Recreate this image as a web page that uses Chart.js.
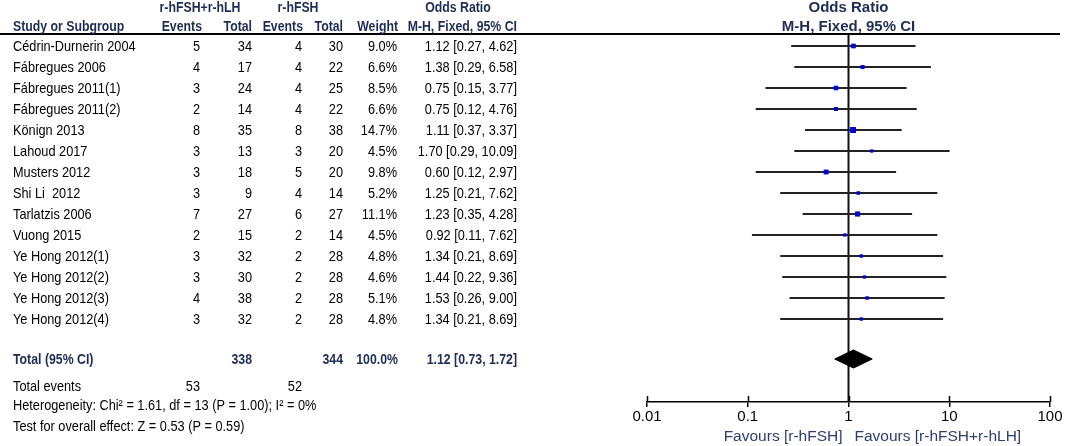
<!DOCTYPE html>
<html>
<head>
<meta charset="utf-8">
<script src="https://cdn.jsdelivr.net/npm/chart.js@4.4.1/dist/chart.umd.min.js"></script>
<style>
html,body{margin:0;padding:0;background:#fff;}
#wrap{position:relative;width:1065px;height:446px;}
</style>
</head>
<body>
<div id="wrap"><canvas id="c"></canvas></div>
<script>
// ---- data ----
const studies = ["Cédrin-Durnerin 2004","Fábregues 2006","Fábregues 2011(1)","Fábregues 2011(2)","Könign 2013","Lahoud 2017","Musters 2012","Shi Li  2012","Tarlatzis 2006","Vuong 2015","Ye Hong 2012(1)","Ye Hong 2012(2)","Ye Hong 2012(3)","Ye Hong 2012(4)"];
const expEvents = [5,4,3,2,8,3,3,3,7,2,3,3,4,3];
const expTotal  = [34,17,24,14,35,13,18,9,27,15,32,30,38,32];
const ctlEvents = [4,4,4,4,8,3,5,4,6,2,2,2,2,2];
const ctlTotal  = [30,22,25,22,38,20,20,14,27,14,28,28,28,28];
const weights   = [9.0,6.6,8.5,6.6,14.7,4.5,9.8,5.2,11.1,4.5,4.8,4.6,5.1,4.8];
const orVals    = [1.12,1.38,0.75,0.75,1.11,1.70,0.60,1.25,1.23,0.92,1.34,1.44,1.53,1.34];
const ciLow     = [0.27,0.29,0.15,0.12,0.37,0.29,0.12,0.21,0.35,0.11,0.21,0.22,0.26,0.21];
const ciHigh    = [4.62,6.58,3.77,4.76,3.37,10.09,2.97,7.62,4.28,7.62,8.69,9.36,9.00,8.69];
const totalExpEvents = 53, totalExpN = 338, totalCtlEvents = 52, totalCtlN = 344;
const totalOR = 1.12, totalLow = 0.73, totalHigh = 1.72, totalWeight = "100.0%";
const heterogeneity = "Heterogeneity: Chi\u00B2 = 1.61, df = 13 (P = 1.00); I\u00B2 = 0%";
const overallTest = "Test for overall effect: Z = 0.53 (P = 0.59)";
const tickValues = [0.01,0.1,1,10,100];
const tickLabels = ["0.01","0.1","1","10","100"];
const favLeft = "Favours [r-hFSH]", favRight = "Favours [r-hFSH+r-hLH]";

// ---- layout helpers ----
const FONT = '"Liberation Sans", Arial, sans-serif';
const NAVY = '#1f2c55';
const nRows = studies.length;
const totalRow = nRows + 0.905;
const yMin = -0.5714, yMax = 16.952;
const fmt2 = v => v.toFixed(2);
const ciText = (o,l,h) => fmt2(o) + " [" + fmt2(l) + ", " + fmt2(h) + "]";

const datasets = [];
// squares
datasets.push({
  type:'scatter', order:0, clip:false,
  data: orVals.map((v,i)=>({x:v,y:i})),
  pointStyle:'rect',
  pointRadius: weights.map(w => 1.55*Math.sqrt(w)/Math.SQRT2),
  backgroundColor:'#0000dd', borderColor:'#0000dd', borderWidth:0
});
// diamond
const dh = 0.43;
datasets.push({
  type:'line', order:1, clip:false,
  data:[{x:totalLow,y:totalRow},{x:totalOR,y:totalRow-dh},{x:totalHigh,y:totalRow},{x:totalOR,y:totalRow+dh},{x:totalLow,y:totalRow}],
  borderColor:'#000', backgroundColor:'#000', borderWidth:1, fill:'shape', pointRadius:0, tension:0
});
// CI lines
orVals.forEach((v,i)=>{
  datasets.push({
    type:'line', order:2, clip:false,
    data:[{x:ciLow[i],y:i},{x:ciHigh[i],y:i}],
    borderColor:'#222', borderWidth:2, pointRadius:0, fill:false
  });
});
// line of no effect
datasets.push({
  type:'line', order:3, clip:false,
  data:[{x:1,y:yMin},{x:1,y:yMax}],
  borderColor:'#111', borderWidth:2, pointRadius:0, fill:false
});

function txt(ctx, s, x, y, align, bold, color, sx, size){
  ctx.save();
  ctx.font = (bold?'bold ':'') + (size||15) + 'px ' + FONT;
  ctx.fillStyle = color;
  ctx.textAlign = align;
  ctx.textBaseline = 'middle';
  ctx.translate(x, y);
  ctx.scale(sx, 1);
  ctx.fillText(s, 0, 0);
  ctx.restore();
}

const tablePlugin = {
  id:'table',
  afterDraw(chart){
    const ctx = chart.ctx;
    const ys = chart.scales.y, xs = chart.scales.x;
    const ca = chart.chartArea;
    const R = 0.85, B = 0.82;
    // header line
    ctx.save();
    ctx.strokeStyle = '#000'; ctx.lineWidth = 2;
    ctx.beginPath(); ctx.moveTo(0, ca.top); ctx.lineTo(1060, ca.top); ctx.stroke();
    // upward tick marks
    ctx.lineWidth = 1.5;
    tickValues.forEach(v=>{
      const px = Math.round(xs.getPixelForValue(v)) + 0.5;
      ctx.beginPath(); ctx.moveTo(px, ca.bottom - 6); ctx.lineTo(px, ca.bottom); ctx.stroke();
    });
    ctx.restore();
    // headers
    const h1 = 8, h2 = 27;
    txt(ctx, "r-hFSH+r-hLH", 200, h1, 'center', true, NAVY, B);
    txt(ctx, "r-hFSH", 298, h1, 'center', true, NAVY, B);
    txt(ctx, "Odds Ratio", 458, h1, 'center', true, NAVY, B);
    txt(ctx, "Study or Subgroup", 13, h2, 'left', true, NAVY, B);
    txt(ctx, "Events", 202, h2, 'right', true, NAVY, B);
    txt(ctx, "Total", 252, h2, 'right', true, NAVY, B);
    txt(ctx, "Events", 303, h2, 'right', true, NAVY, B);
    txt(ctx, "Total", 343, h2, 'right', true, NAVY, B);
    txt(ctx, "Weight", 398, h2, 'right', true, NAVY, B);
    txt(ctx, "M-H, Fixed, 95% CI", 517, h2, 'right', true, NAVY, B);
    const cx = xs.getPixelForValue(1);
    txt(ctx, "Odds Ratio", cx, h1, 'center', true, NAVY, 1);
    txt(ctx, "M-H, Fixed, 95% CI", cx, h2, 'center', true, NAVY, 1);
    // rows
    studies.forEach((s,i)=>{
      const y = ys.getPixelForValue(i) + 1;
      txt(ctx, s, 13, y, 'left', false, '#000', R);
      txt(ctx, String(expEvents[i]), 200, y, 'right', false, '#000', R);
      txt(ctx, String(expTotal[i]), 252, y, 'right', false, '#000', R);
      txt(ctx, String(ctlEvents[i]), 302, y, 'right', false, '#000', R);
      txt(ctx, String(ctlTotal[i]), 343, y, 'right', false, '#000', R);
      txt(ctx, weights[i].toFixed(1) + "%", 397, y, 'right', false, '#000', R);
      txt(ctx, ciText(orVals[i], ciLow[i], ciHigh[i]), 517, y, 'right', false, '#000', R);
    });
    // total
    const ty = ys.getPixelForValue(totalRow) + 1;
    txt(ctx, "Total (95% CI)", 13, ty, 'left', true, NAVY, B);
    txt(ctx, String(totalExpN), 252, ty, 'right', true, NAVY, B);
    txt(ctx, String(totalCtlN), 343, ty, 'right', true, NAVY, B);
    txt(ctx, totalWeight, 398, ty, 'right', true, NAVY, B);
    txt(ctx, ciText(totalOR, totalLow, totalHigh), 517, ty, 'right', true, NAVY, B);
    const ey = ty + 27;
    txt(ctx, "Total events", 13, ey, 'left', false, '#000', R);
    txt(ctx, String(totalExpEvents), 200, ey, 'right', false, '#000', R);
    txt(ctx, String(totalCtlEvents), 302, ey, 'right', false, '#000', R);
    txt(ctx, heterogeneity, 13, ey + 19, 'left', false, '#000', R);
    txt(ctx, overallTest, 13, ey + 40, 'left', false, '#000', R);
    // favours
    txt(ctx, favLeft, cx - 6, 437, 'right', false, '#2f3d6b', 1, 15.5);
    txt(ctx, favRight, cx + 6, 437, 'left', false, '#2f3d6b', 1, 15.5);
  }
};

new Chart(document.getElementById('c'), {
  type:'scatter',
  data:{datasets},
  options:{
    responsive:true, maintainAspectRatio:false, animation:false,
    layout:{padding:{left:647, right:15, top:34, bottom:19}},
    plugins:{legend:{display:false}, tooltip:{enabled:false}},
    scales:{
      x:{
        type:'logarithmic', min:0.01, max:100, position:'bottom',
        afterBuildTicks: s => { s.ticks = tickValues.map(v=>({value:v})); },
        ticks:{autoSkip:false, maxRotation:0, padding:1, color:'#000',
          font:{size:15, family:FONT},
          callback:(v,i)=>tickLabels[i]},
        grid:{drawOnChartArea:false, drawTicks:true, tickLength:5, color:'#000', lineWidth:1.5},
        border:{display:true, color:'#000', width:1.5}
      },
      y:{type:'linear', min:yMin, max:yMax, reverse:true, display:false}
    }
  },
  plugins:[tablePlugin]
});
</script>
</body>
</html>
